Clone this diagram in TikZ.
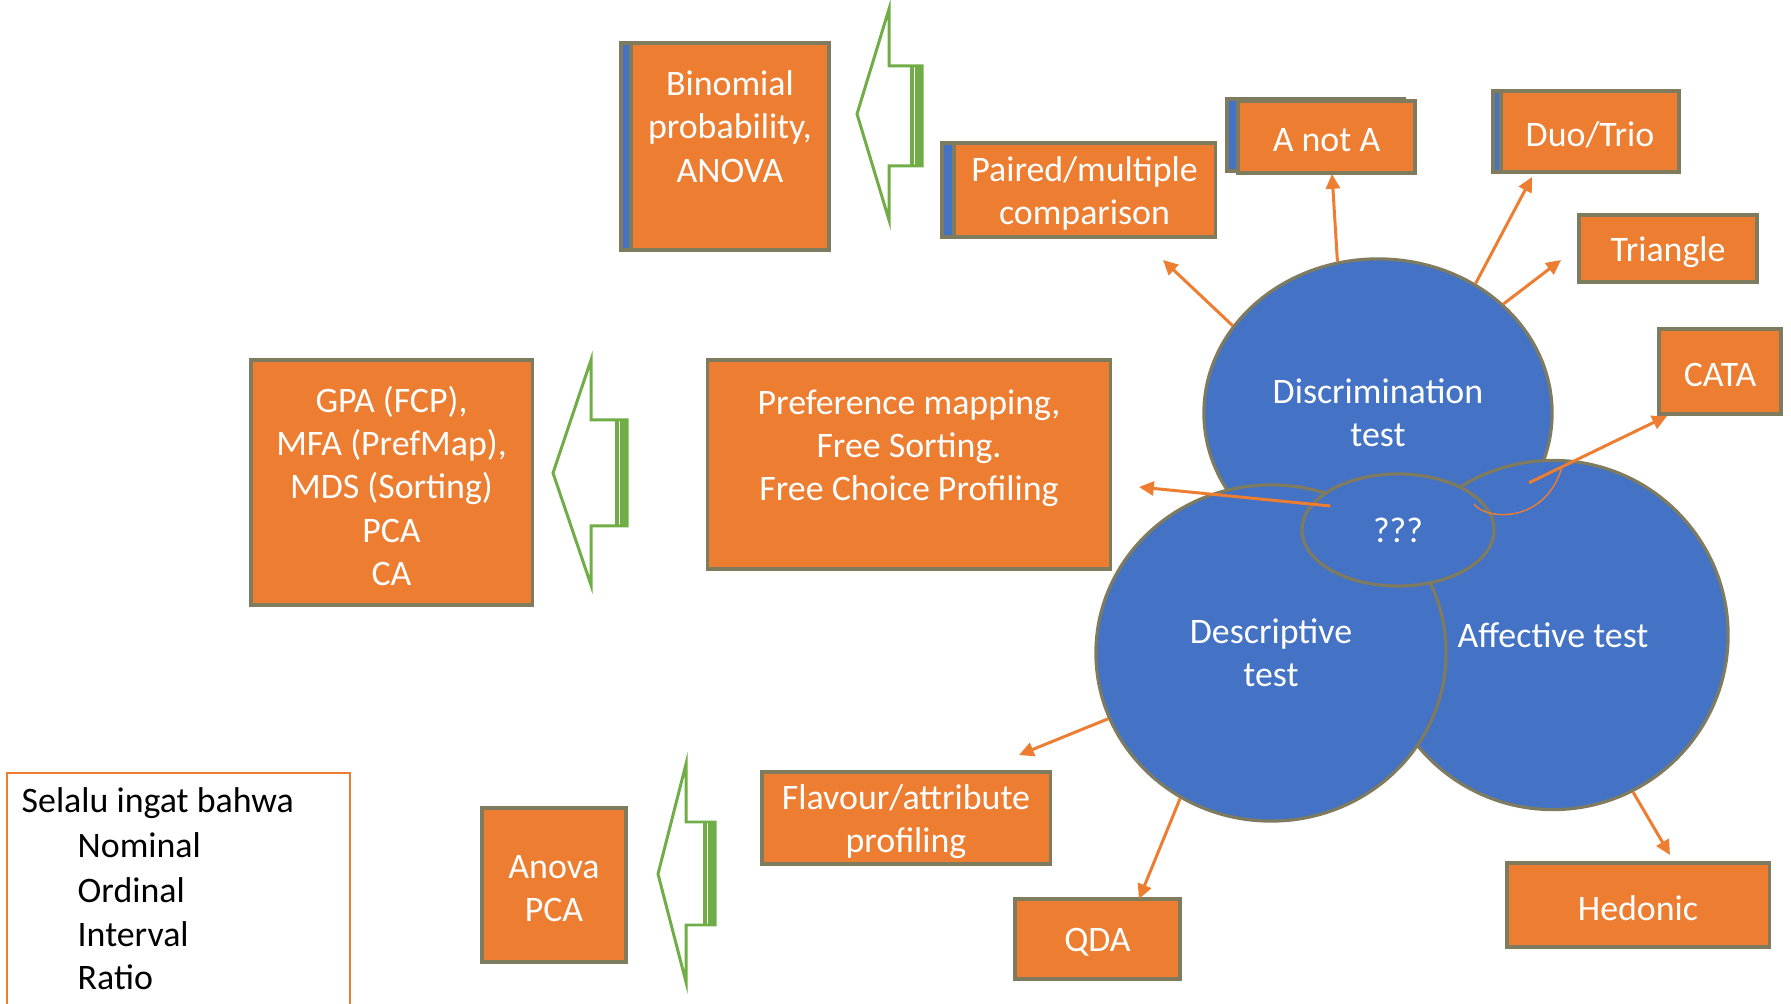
\documentclass[tikz,border=0pt]{standalone}
\usepackage{fontspec}
\setmainfont{Carlito}
\usetikzlibrary{arrows.meta,shapes.geometric,shadows,calc}

\definecolor{boxorange}{HTML}{ED7D31}
\definecolor{circblue}{HTML}{4472C4}
\definecolor{arrowgreen}{HTML}{70AD47}
\definecolor{edgegray}{HTML}{7F7B5F}

\tikzset{
	box/.style={draw=edgegray, line width=0.9pt, fill=boxorange, inner sep=0pt},
	stacked/.style 2 args={copy shadow={shadow xshift=#1, shadow yshift=#2, fill=circblue, draw=edgegray, line width=0.9pt}},
	boxlabel/.style={text=white, align=center, yshift=#1},
	boxlabel/.default=-0.035cm,
	boxtext/.style={label={[boxlabel]center:{#1}}},
	blob/.style={ellipse, draw=edgegray, line width=0.9pt, fill=circblue, text=white, align=center, inner sep=0pt},
	flow/.style={draw=boxorange, line width=0.85pt, -{Triangle[length=4.2pt,width=4pt]}},
	bigarrow/.style={draw=arrowgreen, line width=0.85pt, line join=miter},
	legendtext/.style={text=black, anchor=west, inner sep=0pt}
}

\begin{document}
\begin{tikzpicture}[x=0.01cm, y=-0.01cm, font=\fontsize{10.2pt}{12.3pt}\selectfont]
		\useasboundingbox (0,0) rectangle (1791,1004);

		%%% The three tests
		\node[blob, minimum width=3.48cm, minimum height=3.08cm] (disc) at (1378,413) {Discrimination\\test};
		\node[blob, minimum width=3.50cm, minimum height=3.49cm] (aff) at (1553,635) {Affective test};
		\node[blob, minimum width=3.50cm, minimum height=3.36cm] (desc) at (1271,653) {Descriptive\\test};
		\node[blob, minimum width=1.92cm, minimum height=1.12cm] (unk) at (1398,530) {???};

		%%% Methods
		\node[box, stacked={-0.1cm}{0cm}, minimum width=1.98cm, minimum height=2.07cm,
			label={[boxlabel=0.2cm]center:{Binomial\\probability,\\ANOVA}}] (binom) at (730,146.5) {};
		\node[box, stacked={-0.12cm}{0cm}, minimum width=2.61cm, minimum height=0.94cm, boxtext={Paired/multiple\\comparison}] (paired) at (1084.5,190) {};
		\node[box, stacked={-0.11cm}{0.02cm}, minimum width=1.77cm, minimum height=0.72cm, boxtext={A not A}] (anota) at (1326.5,137) {};
		\node[box, stacked={-0.08cm}{0cm}, minimum width=1.78cm, minimum height=0.81cm, boxtext={Duo/Trio}] (duotrio) at (1590,131.5) {};
		\node[box, minimum width=1.78cm, minimum height=0.67cm, boxtext={Triangle}] (triangle) at (1668,248.5) {};
		\node[box, minimum width=1.22cm, minimum height=0.85cm, boxtext={CATA}] (cata) at (1720,371.5) {};
		\node[box, minimum width=2.81cm, minimum height=2.45cm, boxtext={GPA (FCP),\\MFA (PrefMap),\\MDS (Sorting)\\PCA\\CA}] (gpa) at (391.5,482.5) {};
		\node[box, minimum width=4.02cm, minimum height=2.09cm,
			label={[boxlabel=0.16cm]center:{Preference mapping,\\Free Sorting.\\Free Choice Profiling}}] (prefmap) at (909,464.5) {};
		\node[box, minimum width=2.88cm, minimum height=0.92cm, boxtext={Flavour/attribute\\profiling}] (flavour) at (906,818) {};
		\node[box, minimum width=1.44cm, minimum height=1.54cm, boxtext={Anova\\PCA}] (anova) at (554,885) {};
		\node[box, minimum width=1.65cm, minimum height=0.80cm, boxtext={QDA}] (qda) at (1097.5,939) {};
		\node[box, minimum width=2.62cm, minimum height=0.84cm, boxtext={Hedonic}] (hedonic) at (1638,905) {};

		%%% Arrow ends
		\coordinate (pairedtip) at (1163,260);
		\coordinate (anotatip) at (1332,174);
		\coordinate (duotriotip) at (1532,177);
		\coordinate (triangletip) at (1561,260);
		\coordinate (prefmaptip) at (1139,487);
		\coordinate (catatip) at (1667,416);
		\coordinate (flavourtip) at (1019,755);
		\coordinate (qdatip) at (1139,899);
		\coordinate (hedonictip) at (1670,855);

		\draw[flow] (disc.149) -- (pairedtip);
		\draw[flow] (disc.105) -- (anotatip);
		\draw[flow] (disc.53) -- (duotriotip);
		\draw[flow] (disc.41) -- (triangletip);
		\draw[flow] ($(unk.west)+(30,-24)$) -- (prefmaptip);
		\draw[flow] ($(aff.north)+(-24,24)$) -- (catatip);
		\draw[flow] (desc.202) -- (flavourtip);
		\draw[flow] (desc.238) -- (qdatip);
		\draw[flow] (aff.297) -- (hedonictip);

		% loose connector
		\coordinate (arcstart) at (1474,504);
		\coordinate (arcend) at (1562,467);
		\draw[boxorange, line width=0.4pt] (arcstart) .. controls (1485,520) and (1545,525) .. (arcend);

		%%% Big arrows
		\foreach \ax/\ay/\bx/\headtop/\headbot/\shafttop/\shaftbot/\rx in {857/114/889/9/220/66/166/922, 553/473/591/360/585/420/526/627, 658/874/686/764/982/822/925/715} {
			\draw[bigarrow] (\ax,\ay) -- (\bx,\headtop) -- (\bx,\shafttop) -- (\rx,\shafttop) -- (\rx,\shaftbot) -- (\bx,\shaftbot) -- (\bx,\headbot) -- cycle;
			\draw[arrowgreen, line width=2pt] (\rx-3.5,\shafttop) -- (\rx-3.5,\shaftbot);
			\draw[arrowgreen, line width=1.2pt] (\rx-10,\shafttop) -- (\rx-10,\shaftbot);
		}

		%%% Reminder
		\draw[boxorange, line width=0.6pt] (7,773) rectangle (350,1020);
		\node[legendtext] (remind) at (21,803) {Selalu ingat bahwa};
		\foreach \lvl/\ypos in {Nominal/845, Ordinal/890, Interval/934, Ratio/977}
			\node[legendtext] (\lvl) at (77,\ypos) {\lvl};
\end{tikzpicture}
\end{document}
